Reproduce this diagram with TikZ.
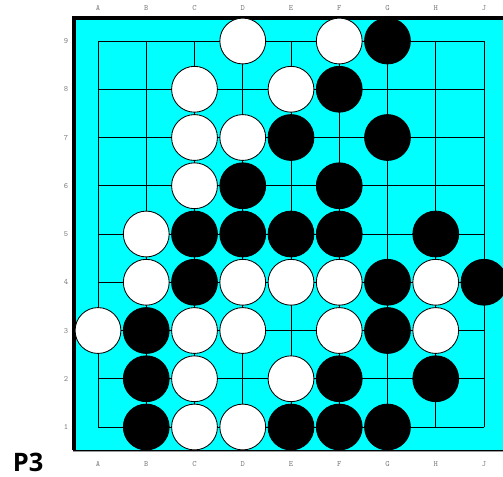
\documentclass[tikz,border=0pt]{standalone}
\usepackage{fontspec}
\newfontfamily\tagfont{Open Sans}
\usetikzlibrary{positioning}
\definecolor{boardcyan}{HTML}{00FFFF}
\definecolor{labelgray}{HTML}{808080}
\definecolor{shadowgray}{HTML}{9A9A9A}

\begin{document}
\begin{tikzpicture}[
      x=1cm, y=1cm,
      gridline/.style={black, line width=0.45pt},
      wstone/.style={circle, draw=black, line width=0.5pt, fill=white,
                     minimum size=0.95cm, inner sep=0pt},
      bstone/.style={circle, draw=black, line width=0.5pt, fill=black,
                     minimum size=0.95cm, inner sep=0pt},
      coordlabel/.style={font=\ttfamily\fontsize{4.8}{5}\selectfont, text=labelgray, inner sep=0pt},
    ]
    \useasboundingbox (-2.031,-1.016) rectangle (8.394,8.850);
    % board
    \fill[boardcyan] (-0.518,-0.480) rectangle (8.6,8.497);
    \draw[shadowgray, line width=1.6pt] (-0.518,-0.500) -- (8.6,-0.500);
    \draw[black, line width=0.5pt] (-0.518,-0.480) -- (8.6,-0.480);
    \draw[black, line width=2.2pt] (-0.5,-0.480) -- (-0.5,8.47) -- (8.6,8.47);
    % grid
    \foreach \i in {0,...,8} {
      \draw[gridline] (\i,0) -- (\i,8);
      \draw[gridline] (0,\i) -- (8,\i);
    }
    % coordinates
    \foreach \c [count=\i from 0] in {A,B,C,D,E,F,G,H,J} {
      \node[coordlabel] (top-\c) at (\i,8.684) {\c};
      \node[coordlabel] (bot-\c) at (\i,-0.767) {\c};
    }
    \foreach \r in {1,...,9}
      \node[coordlabel] (row-\r) at (-0.663,\r-1) {\r};
    % white stones
    \foreach \x/\y in {3/8, 5/8, 2/7, 4/7, 2/6, 3/6, 2/5, 1/4, 1/3, 3/3, 4/3, 5/3, 7/3,
                       0/2, 2/2, 3/2, 5/2, 7/2, 2/1, 4/1, 2/0, 3/0}
      \node[wstone] (w-\x-\y) at (\x,\y) {};
    % black stones
    \foreach \x/\y in {6/8, 5/7, 4/6, 6/6, 3/5, 5/5, 2/4, 3/4, 4/4, 5/4, 7/4,
                       2/3, 6/3, 8/3, 1/2, 6/2, 1/1, 5/1, 7/1, 1/0, 4/0, 5/0, 6/0}
      \node[bstone] (b-\x-\y) at (\x,\y) {};
    % problem tag
    \node[font=\tagfont\bfseries\fontsize{15}{16}\selectfont, inner sep=0pt] (tag) at (-1.45,-0.73) {P3};
  \end{tikzpicture}
\end{document}
